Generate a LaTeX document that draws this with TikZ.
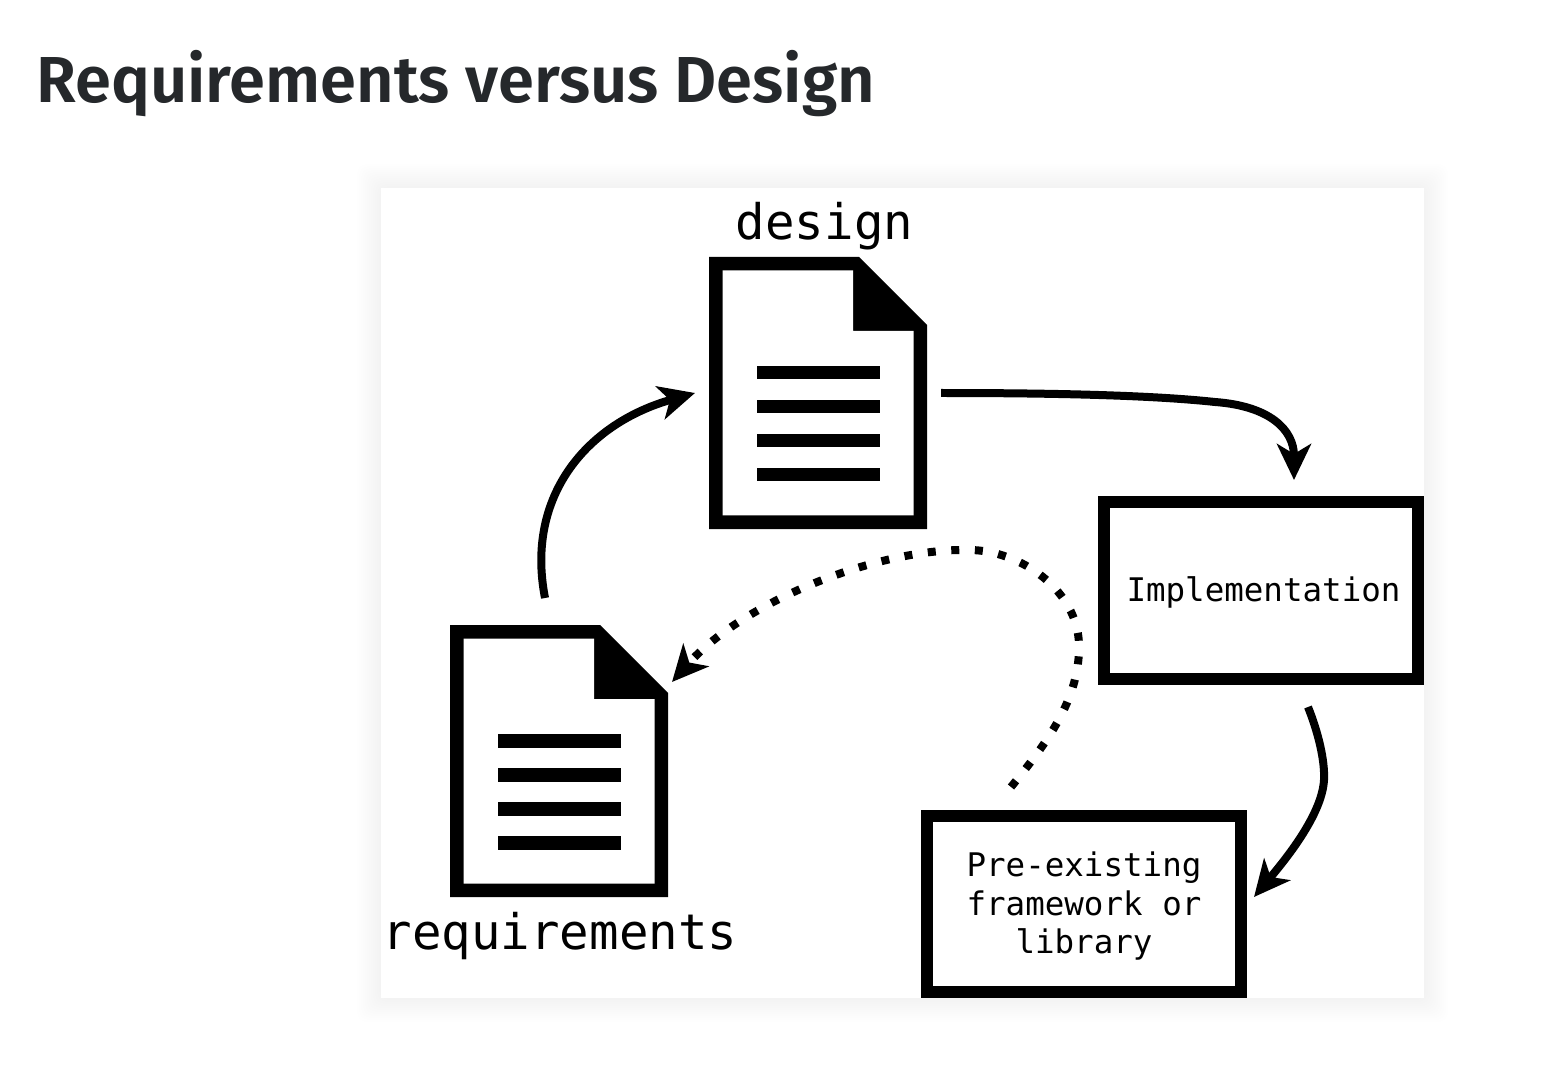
\documentclass[tikz,border=0pt]{standalone}
\usepackage{fontspec}
\usepackage{xcolor}
\usetikzlibrary{arrows.meta}
\setmainfont{Fira Sans}[BoldFont={Fira Sans SemiBold}]
\newfontfamily\diagfont{DejaVu Sans Mono}
\definecolor{titlecolor}{HTML}{25282B}
\tikzset{
  cardedge/.style={fill=black,opacity=0.004,rounded corners=0.2cm},
  docbody/.style={minimum width=4.36cm,minimum height=5.44cm,inner sep=0pt},
  doclabel/.style={anchor=base,font=\diagfont\fontsize{27.9}{33}\selectfont},
  stepbox/.style={draw=black,line width=0.24cm,fill=white,inner sep=0pt,align=center,
    font=\diagfont\fontsize{18.5}{22}\selectfont},
  flow/.style={line width=0.16cm,-{Stealth[length=0.72cm,width=0.68cm,inset=0.2cm]}},
  flowdot/.style={flow,dash pattern=on 0.16cm off 0.312cm}
}
\begin{document}
\begin{tikzpicture}[x=0.02cm,y=-0.02cm]
\useasboundingbox (0,0) rectangle (1549,1084);
\node[anchor=base west,inner sep=0pt,text=titlecolor,font=\bfseries\fontsize{37}{44}\selectfont] (title) at (36,103) {Requirements versus Design};
% card
\foreach \g in {2,4,...,24} {
  \fill[cardedge] (381-\g,188-\g) rectangle (1424+\g,998+\g);
}
\fill[white] (381,188) rectangle (1424,998);
% the two documents
\foreach \name/\x/\y in {design/709/257,req/450/625} {
  \begin{scope}[shift={(\x,\y)}]
    \fill[black] (0,0) -- (150,0) -- (218,68) -- (218,272) -- (0,272) -- cycle;
    \fill[white] (13.5,13.5) -- (144,13.5) -- (144,74) -- (204.5,74) -- (204.5,258.5) -- (13.5,258.5) -- cycle;
    \foreach \t in {109,143,177,211} {
      \fill[black] (48,\t) rectangle (171,\t+13.5);
    }
    \node[docbody] (\name) at (109,136) {};
  \end{scope}
}
\node[doclabel] (designlabel) at (824.5,240) {design};
\node[doclabel] (reqlabel) at (560,949) {requirements};
% boxes
\node[stepbox,minimum width=6.27cm,minimum height=3.55cm] (impl) at (1261,590.75) {\kern0.1cm\rule{0pt}{16.4pt}Implementation};
\node[stepbox,minimum width=6.28cm,minimum height=3.52cm] (lib) at (1084,904) {\rule{0pt}{16.4pt}Pre-existing\\framework or\\library};
% ends of the connectors
\coordinate (designout) at (941,393);
\coordinate (implin) at (1294,480);
\coordinate (implout) at (1308,707);
\coordinate (libin) at (1254,897);
\coordinate (libout) at (1011,787);
\coordinate (reqin) at (672,682);
\coordinate (reqout) at (545,598);
\coordinate (designin) at (695,393);
\draw[flow] (reqout) .. controls (525,495) and (588,423) .. (designin);
\draw[flow] (designout) .. controls (1050,393) and (1150,395) .. (1215,402) .. controls (1270,406) and (1294,430) .. (implin);
\draw[flow] (implout) .. controls (1318,732) and (1325,760) .. (1324,780) .. controls (1322,815) and (1285,860) .. (libin);
\draw[flowdot] (libout) .. controls (1045,745) and (1080,700) .. (1079,645) .. controls (1078,590) and (1020,550) .. (969,550) .. controls (880,548) and (745,600) .. (reqin);
\end{tikzpicture}
\end{document}
